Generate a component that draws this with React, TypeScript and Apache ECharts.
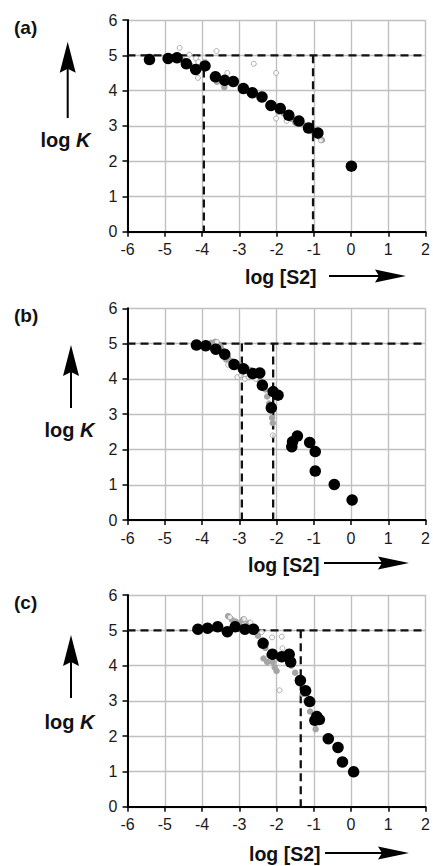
import React, { useEffect, useRef } from "react";
import * as echarts from "echarts";

// ---------- data ----------
const X_TICKS = { min: -6, max: 2, interval: 1 };
const Y_TICKS = { min: 0, max: 6, interval: 1 };
const PANEL_LABELS = ["(a)", "(b)", "(c)"];

// panel (a)
const A_BLACK = [
  [-5.41, 4.88], [-4.91, 4.91], [-4.67, 4.93], [-4.42, 4.76], [-4.17, 4.6], [-3.92, 4.7],
  [-3.64, 4.39], [-3.39, 4.29], [-3.16, 4.26], [-2.89, 4.06], [-2.65, 3.94], [-2.39, 3.82],
  [-2.15, 3.58], [-1.9, 3.49], [-1.67, 3.3], [-1.4, 3.14], [-1.14, 2.94], [-0.89, 2.8], [0.01, 1.86],
];
const A_GRAY_OPEN = [
  [-4.6, 5.21], [-4.34, 5.02], [-4.16, 4.91], [-4.1, 4.81], [-4.11, 4.36], [-3.61, 5.12],
  [-3.32, 4.5], [-2.61, 4.76], [-2.01, 4.5], [-2.01, 3.21], [-1.73, 3.14], [-0.81, 2.59], [-3.92, 4.82],
];
const A_GRAY_FILL = [
  [-4.5, 4.85], [-4.3, 4.7], [-3.6, 4.25], [-3.4, 4.1], [-3.1, 4.2], [-2.8, 4.0], [-2.2, 3.55],
  [-1.95, 3.4], [-1.8, 3.35], [-1.6, 3.2], [-1.5, 3.1], [-1.3, 3.05], [-1.05, 2.85], [-0.85, 2.7], [-0.78, 2.6],
];
const A_DASH_H = [[-6, 5], [2, 5]];
const A_DASH_V1 = [[-3.95, 4.6], [-3.95, 0]];
const A_DASH_V2 = [[-1.02, 5], [-1.02, 0]];

// panel (b)
const B_BLACK = [
  [-4.15, 4.96], [-3.9, 4.94], [-3.63, 4.84], [-3.39, 4.7], [-3.14, 4.41], [-2.89, 4.29],
  [-2.64, 4.15], [-2.45, 4.17], [-2.38, 3.82], [-2.09, 3.64], [-1.96, 3.54], [-2.14, 3.18],
  [-1.59, 2.08], [-1.57, 2.22], [-1.44, 2.38], [-1.11, 2.2], [-0.96, 1.94], [-0.96, 1.39],
  [-0.45, 1.01], [0.03, 0.57],
];
const B_GRAY_OPEN = [
  [-3.3, 4.4], [-3.05, 4.05], [-2.95, 4.1], [-2.85, 4.0], [-2.75, 4.05], [-2.55, 4.0],
  [-2.62, 4.1], [-2.1, 2.4], [-3.6, 5.05],
];
const B_GRAY_FILL = [
  [-3.75, 5.02], [-3.65, 5.05], [-3.55, 4.98], [-3.5, 4.9], [-3.45, 4.8], [-3.3, 4.6], [-3.2, 4.5],
  [-3.1, 4.45], [-3.0, 4.4], [-2.9, 4.35], [-2.8, 4.3], [-2.7, 4.25], [-2.6, 4.2], [-2.5, 4.1],
  [-2.4, 3.9], [-2.3, 3.7], [-2.25, 3.5], [-2.2, 3.3], [-2.15, 3.1], [-2.12, 2.9], [-2.1, 2.75],
  [-3.35, 4.55], [-3.25, 4.45], [-2.95, 4.25], [-2.75, 4.2], [-2.45, 3.95], [-2.35, 3.8],
];
const B_DASH_H = [[-6, 5], [2, 5]];
const B_DASH_V1 = [[-2.93, 5], [-2.93, 0]];
const B_DASH_V2 = [[-2.09, 5], [-2.09, 0]];

// panel (c)
const C_BLACK = [
  [-4.11, 5.03], [-3.85, 5.06], [-3.58, 5.1], [-3.32, 4.96], [-3.11, 5.1], [-2.85, 5.03],
  [-2.62, 5.03], [-2.36, 4.63], [-2.11, 4.32], [-1.86, 4.25], [-1.66, 4.32], [-1.62, 4.1],
  [-1.36, 3.58], [-1.22, 3.29], [-1.11, 2.98], [-0.92, 2.56], [-0.85, 2.47], [-0.97, 2.45],
  [-0.61, 1.93], [-0.35, 1.68], [-0.23, 1.27], [0.07, 0.99],
];
const C_GRAY_OPEN = [
  [-3.25, 5.37], [-2.87, 5.32], [-2.7, 5.22], [-2.4, 4.95], [-2.12, 4.8], [-1.86, 4.82],
  [-1.84, 4.49], [-1.92, 3.3], [-2.6, 5.1],
];
const C_GRAY_FILL = [
  [-3.3, 5.4], [-3.2, 5.3], [-3.1, 5.25], [-3.0, 5.2], [-2.9, 5.3], [-2.75, 5.2], [-2.6, 5.0],
  [-2.5, 4.85], [-2.4, 4.7], [-2.3, 4.5], [-2.2, 4.3], [-2.1, 4.1], [-2.05, 3.95], [-2.0, 3.85],
  [-2.35, 4.2], [-2.25, 4.1], [-1.7, 4.2], [-1.6, 4.0], [-1.5, 3.8], [-1.4, 3.5], [-1.3, 3.2],
  [-1.2, 3.0], [-1.1, 2.7], [-1.0, 2.4], [-0.95, 2.2],
];
const C_DASH_H = [[-6, 5], [2, 5]];
const C_DASH_V = [[-1.35, 5], [-1.35, 0]];

const PANELS = [
  { black: A_BLACK, open: A_GRAY_OPEN, fill: A_GRAY_FILL, dashes: [A_DASH_H, A_DASH_V1, A_DASH_V2] },
  { black: B_BLACK, open: B_GRAY_OPEN, fill: B_GRAY_FILL, dashes: [B_DASH_H, B_DASH_V1, B_DASH_V2] },
  { black: C_BLACK, open: C_GRAY_OPEN, fill: C_GRAY_FILL, dashes: [C_DASH_H, C_DASH_V] },
];

// ---------- layout ----------
const W = 433;
const H = 866;
const FONT = "'Liberation Sans', Arial, Helvetica, sans-serif";
const GRID_TOPS = [20, 308.3, 595];
const GRID_H = 211.8;
const GRID_LEFT = 127.5;
const GRID_W = 304.2;

const LABEL_POS = [
  { tag: [14, 27.5], k: [40.5, 139.5], s: [245, 277], up: [67.7, 118, 41.7], right: [329, 406, 276] },
  { tag: [14, 315.5], k: [44.5, 430], s: [248, 565], up: [71, 408, 345], right: [324, 409, 563] },
  { tag: [14, 602], k: [44.5, 722], s: [249, 854], up: [71, 698, 635], right: [325, 409, 853] },
];

function buildOption() {
  const grid: any[] = [];
  const xAxis: any[] = [];
  const yAxis: any[] = [];
  const series: any[] = [];
  const graphic: any[] = [];

  PANELS.forEach((p, i) => {
    grid.push({ left: GRID_LEFT, top: GRID_TOPS[i], width: GRID_W, height: GRID_H, containLabel: false });
    xAxis.push({
      type: "value",
      gridIndex: i,
      min: X_TICKS.min,
      max: X_TICKS.max,
      interval: X_TICKS.interval,
      axisLine: { show: true, onZero: false, lineStyle: { color: "#000", width: 2 } },
      axisTick: { show: true, length: 5, lineStyle: { color: "#000", width: 1.5 } },
      axisLabel: { fontSize: 16, color: "#1a1a1a", fontFamily: FONT, margin: 10 },
      splitLine: { show: true, lineStyle: { color: "#c0c0c0", width: 1.4 } },
    });
    yAxis.push({
      type: "value",
      gridIndex: i,
      min: Y_TICKS.min,
      max: Y_TICKS.max,
      interval: Y_TICKS.interval,
      axisLine: { show: true, onZero: false, lineStyle: { color: "#000", width: 2 } },
      axisTick: { show: true, length: 5, lineStyle: { color: "#000", width: 1.5 } },
      axisLabel: { fontSize: 16, color: "#1a1a1a", fontFamily: FONT, margin: 10 },
      splitLine: { show: true, lineStyle: { color: "#c0c0c0", width: 1.4 } },
    });
    p.dashes.forEach((d) => {
      series.push({
        type: "line",
        xAxisIndex: i,
        yAxisIndex: i,
        data: d,
        symbol: "none",
        z: 3,
        lineStyle: { color: "#111", width: 2.3, type: [8, 5] },
      });
    });
    series.push({
      type: "scatter",
      xAxisIndex: i,
      yAxisIndex: i,
      data: p.fill,
      symbolSize: 6.5,
      z: 4,
      itemStyle: { color: "#a5a5a5", opacity: 1 },
    });
    series.push({
      type: "scatter",
      xAxisIndex: i,
      yAxisIndex: i,
      data: p.open,
      symbolSize: 5,
      z: 4,
      itemStyle: { color: "#ffffff", borderColor: "#9a9a9a", borderWidth: 1 },
    });
    series.push({
      type: "scatter",
      xAxisIndex: i,
      yAxisIndex: i,
      data: p.black,
      symbolSize: 11.5,
      z: 5,
      itemStyle: { color: "#000", opacity: 1 },
    });

    const L = LABEL_POS[i];
    graphic.push({
      type: "text",
      x: L.tag[0],
      y: L.tag[1],
      style: {
        text: PANEL_LABELS[i],
        fontSize: 19,
        fontWeight: "bold",
        fontFamily: FONT,
        fill: "#111",
        textAlign: "left",
        textVerticalAlign: "middle",
      },
    });
    graphic.push({
      type: "text",
      x: L.k[0],
      y: L.k[1],
      style: {
        text: "{n|log }{i|K}",
        textAlign: "left",
        textVerticalAlign: "middle",
        rich: {
          n: { fontSize: 20, fontWeight: "bold", fontFamily: FONT, fill: "#111" },
          i: { fontSize: 20, fontWeight: "bold", fontStyle: "italic", fontFamily: FONT, fill: "#111" },
        },
      },
    });
    graphic.push({
      type: "text",
      x: L.s[0],
      y: L.s[1],
      style: {
        text: "log [S2]",
        fontSize: 19.5,
        fontWeight: "bold",
        fontFamily: FONT,
        fill: "#111",
        textAlign: "left",
        textVerticalAlign: "middle",
      },
    });
    // up arrow
    const [ux, uy0, uy1] = L.up;
    graphic.push({
      type: "line",
      shape: { x1: ux, y1: uy0, x2: ux, y2: uy1 + 20 },
      style: { stroke: "#000", lineWidth: 2 },
    });
    graphic.push({
      type: "polygon",
      shape: {
        points: [
          [ux, uy1],
          [ux - 8, uy1 + 31],
          [ux, uy1 + 27],
          [ux + 8, uy1 + 31],
        ],
      },
      style: { fill: "#000" },
    });
    // right arrow
    const [rx0, rx1, ry] = L.right;
    graphic.push({
      type: "line",
      shape: { x1: rx0, y1: ry, x2: rx1 - 20, y2: ry },
      style: { stroke: "#000", lineWidth: 2 },
    });
    graphic.push({
      type: "polygon",
      shape: {
        points: [
          [rx1, ry],
          [rx1 - 31, ry - 6.5],
          [rx1 - 27, ry],
          [rx1 - 31, ry + 6.5],
        ],
      },
      style: { fill: "#000" },
    });
  });

  return {
    animation: false,
    backgroundColor: "#fff",
    textStyle: { fontFamily: FONT },
    grid,
    xAxis,
    yAxis,
    series,
    graphic,
  };
}

export default function App() {
  const ref = useRef<HTMLDivElement>(null);
  useEffect(() => {
    if (!ref.current) return;
    const chart = echarts.init(ref.current, undefined, { renderer: "svg" });
    chart.setOption(buildOption() as any);
    return () => chart.dispose();
  }, []);
  return (
    <div
      ref={ref}
      style={{ position: "absolute", left: 0, top: 0, width: W, height: H, background: "#fff" }}
    />
  );
}
